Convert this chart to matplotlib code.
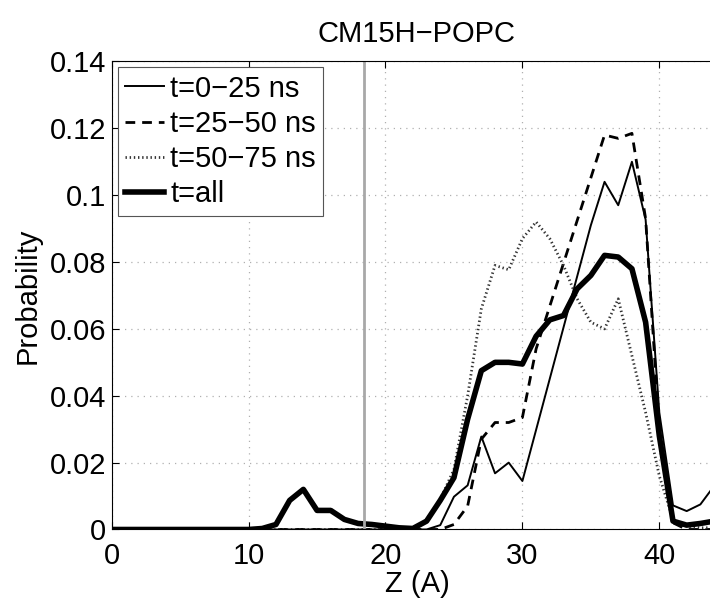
import matplotlib
matplotlib.use("Agg")
import matplotlib.pyplot as plt

plt.rcParams["font.family"] = ["Liberation Sans", "DejaVu Sans"]

# Z positions (A) and probabilities
z_all = list(range(0, 46))
p_all = [0, 0, 0, 0, 0, 0, 0, 0, 0, 0, 0,
         0.0003, 0.0015, 0.0087, 0.012, 0.0057, 0.0057, 0.003, 0.0018, 0.0015, 0.001,
         0.0005, 0.0003, 0.0025, 0.0087, 0.0155, 0.033, 0.0475, 0.050, 0.050, 0.0495,
         0.0578, 0.0627, 0.064, 0.072, 0.076, 0.082, 0.0815, 0.078, 0.062, 0.028,
         0.0025, 0.0013, 0.0018, 0.0025, 0.002]

z_t1 = list(range(0, 31)) + list(range(35, 46))
p_t1 = [0] * 24 + [0.0013, 0.0098, 0.0132, 0.0278, 0.0168, 0.020, 0.0145,
                   0.091, 0.104, 0.097, 0.110, 0.0927, 0.035, 0.0072, 0.0055, 0.0075, 0.013, 0.010]

z_t2 = list(range(0, 32)) + list(range(36, 46))
p_t2 = [0] * 25 + [0.0015, 0.007, 0.027, 0.032, 0.032, 0.0335, 0.054,
                   0.118, 0.117, 0.1185, 0.093, 0.03, 0.002, 0, 0, 0, 0]

z_t3 = list(range(0, 46))
p_t3 = [0] * 23 + [0.003, 0.009, 0.018, 0.040, 0.066, 0.079, 0.0777, 0.087, 0.092,
                   0.087, 0.079, 0.069, 0.062, 0.060, 0.069, 0.052, 0.035, 0.016, 0.003,
                   0.001, 0.0005, 0.0005, 0]

marker_z = 18.45

fig = plt.figure(figsize=(7.10, 6.01), dpi=100)
ax = fig.add_axes([0.1573, 0.119, 0.86, 0.7787])

ax.plot(z_t1, p_t1, color="black", lw=1.4, label="t=0\u221225 ns")
ax.plot(z_t2, p_t2, color="black", lw=2.0, linestyle=(0, (3.5, 2.5)), label="t=25\u221250 ns")
ax.plot(z_t3, p_t3, color="#333333", lw=2.0, linestyle=(0, (0.5, 1.0)), label="t=50\u221275 ns")
ax.plot(z_all, p_all, color="black", lw=4.0, label="t=all")
ax.axvline(marker_z, color="#a8a8a8", lw=2)

ax.set_xlim(0, 44.6)
ax.set_ylim(0, 0.14)
ax.set_xticks([0, 10, 20, 30, 40])
ax.set_yticks([0, 0.02, 0.04, 0.06, 0.08, 0.1, 0.12, 0.14])
ax.set_yticklabels(["0", "0.02", "0.04", "0.06", "0.08", "0.1", "0.12", "0.14"])
ax.grid(True, color="#b0b0b0", linestyle=(0, (1, 4)), lw=0.9)
ax.tick_params(direction="in", labelsize=21, length=5, top=True, right=False)
ax.tick_params(axis="x", pad=9)
ax.tick_params(axis="y", pad=4)
for s in ["left", "top", "bottom"]:
    ax.spines[s].set_linewidth(0.8)
ax.spines["right"].set_visible(False)

ax.set_xlabel("Z (A)", fontsize=21, labelpad=0)
ax.set_ylabel("Probability", fontsize=21, labelpad=6)
ax.set_title("CM15H\u2212POPC", fontsize=21, pad=14)

leg = ax.legend(loc="upper left", fontsize=21, handlelength=1.35, handletextpad=0.2,
                labelspacing=0.25, borderpad=0.25, borderaxespad=0.2,
                fancybox=False, framealpha=1, edgecolor="#555555")
leg.get_frame().set_linewidth(0.8)

fig.savefig("out.png", dpi=100)
